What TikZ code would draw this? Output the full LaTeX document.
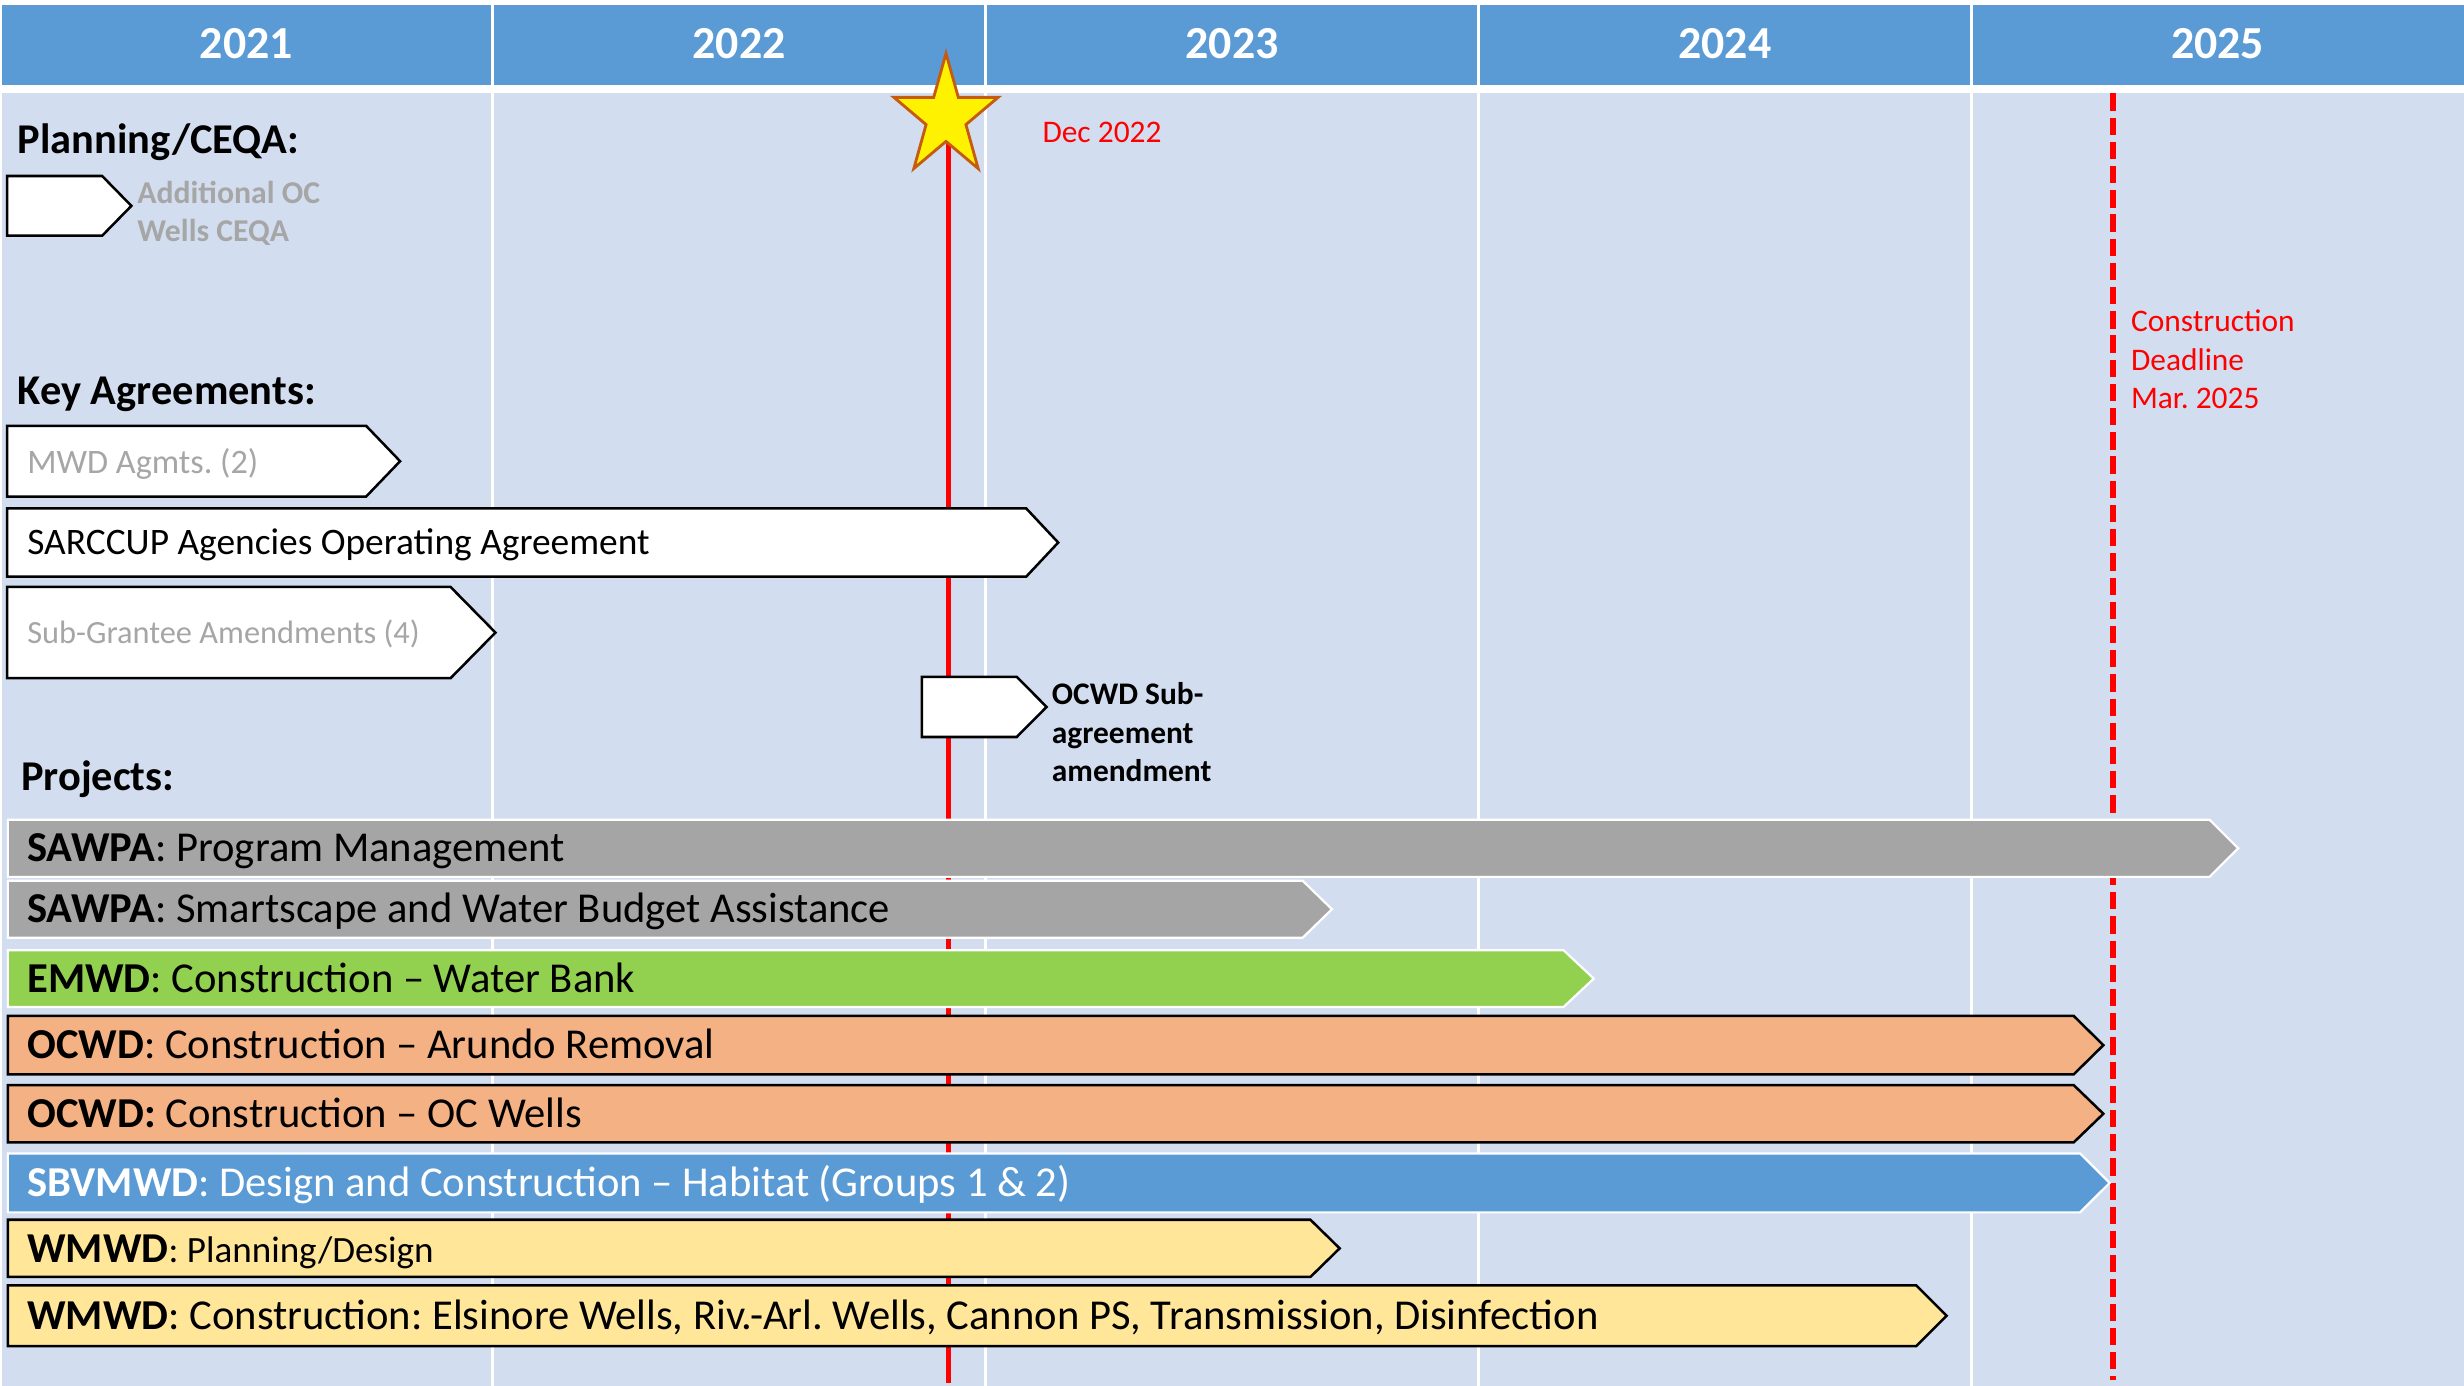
\documentclass[tikz,border=0pt]{standalone}
\usepackage{fontspec}
\setmainfont{Carlito}
\frenchspacing
\definecolor{headblue}{HTML}{5B9BD5}
\definecolor{bodyblue}{HTML}{D2DEEF}
\definecolor{bargray}{HTML}{A5A5A5}
\definecolor{bargreen}{HTML}{92D050}
\definecolor{barorange}{HTML}{F4B183}
\definecolor{baryellow}{HTML}{FFE699}
\definecolor{txtgray}{HTML}{A6A6A6}
\definecolor{starline}{HTML}{C55A11}
\newcommand{\PBar}[6]{\path[#1] (#2,#3) -- (#4,#3) -- (#5,{(#3+#6)/2}) -- (#4,#6) -- (#2,#6) -- cycle;}
\tikzset{
  divider/.style={draw=white, line width=0.85pt},
  whitebox/.style={fill=white, draw=black, line width=0.8pt, line join=miter},
  graybar/.style={fill=bargray, draw=white, line width=0.7pt},
  greenbar/.style={fill=bargreen, draw=white, line width=0.7pt},
  bluebar/.style={fill=headblue, draw=white, line width=0.7pt},
  orangebar/.style={fill=barorange, draw=black, line width=0.8pt},
  yellowbar/.style={fill=baryellow, draw=black, line width=0.8pt},
  yearlbl/.style={anchor=base, inner sep=0pt, text=white, font=\fontsize{14.6}{17}\selectfont\bfseries},
  sechead/.style={anchor=base west, inner sep=0pt, font=\fontsize{13.5}{16}\selectfont\bfseries},
  barlbl/.style={anchor=base west, inner sep=0pt, font=\fontsize{13.55}{16}\selectfont},
  redlbl/.style={anchor=base west, inner sep=0pt, text=red, align=left, font=\fontsize{10}{12.2}\selectfont},
  graylbl/.style={anchor=base west, inner sep=0pt, text=txtgray},
  agmtlbl/.style={anchor=base west, inner sep=0pt, align=left, font=\fontsize{10}{12.3}\selectfont\bfseries},
  milestone/.style={draw=red, line width=1.6pt},
  deadline/.style={draw=red, line width=2pt, dash pattern=on 5.5pt off 2.2pt},
  starsty/.style={fill=yellow, draw=starline, line width=0.9pt, line join=miter}
}
\begin{document}
\begin{tikzpicture}[x=0.5pt, y=-0.5pt]
\useasboundingbox (0,0) rectangle (1568,882);
\fill[white] (0,0) rectangle (1568,882);
% header and body
\fill[headblue] (1.5,3) rectangle (1568,54.3);
\fill[bodyblue] (1.5,59.3) rectangle (1568,882);
\foreach \cx in {313.6,627.2,940.8,1254.4} {
  \draw[divider] (\cx,3) -- (\cx,54.3);
  \draw[divider] (\cx,59.3) -- (\cx,882);
}
% year labels
\node[yearlbl] (y2021) at (156.8,37.1) {2021};
\node[yearlbl] (y2022) at (470.4,37.1) {2022};
\node[yearlbl] (y2023) at (784.0,37.1) {2023};
\node[yearlbl] (y2024) at (1097.6,37.1) {2024};
\node[yearlbl] (y2025) at (1411.2,37.1) {2025};
% milestone lines
\coordinate (starc) at (602,74.5);
\coordinate (milebot) at (603.5,880);
\coordinate (deadtop) at (1344.7,59.5);
\coordinate (deadbot) at (1344.7,878);
\draw[milestone] (603.5,74.5) -- (milebot);
\draw[deadline] (deadtop) -- (deadbot);
% section headings
\node[sechead] (hplan) at (11,98) {Planning/CEQA:};
\node[sechead] (hkey) at (11,257.2) {Key Agreements:};
\node[sechead] (hproj) at (13,503) {Projects:};
% planning / agreements boxes
\PBar{whitebox}{4.5}{112}{65}{83.6}{150}
\node[graylbl, align=left, font=\fontsize{10.1}{12.2}\selectfont\bfseries] (tplan) at (87,153.8) {Additional OC\\Wells CEQA};
\PBar{whitebox}{4.5}{271}{233}{254.6}{316}
\node[graylbl, font=\fontsize{10.9}{13}\selectfont] (tmwd) at (17,301.3) {MWD Agmts. (2)};
\PBar{whitebox}{4.5}{323.5}{653}{673.4}{367}
\node[barlbl, font=\fontsize{11.9}{14}\selectfont] (tsarc) at (17,352.6) {SARCCUP Agencies Operating Agreement};
\PBar{whitebox}{4.5}{373.5}{286.7}{315.3}{431.6}
\node[graylbl, font=\fontsize{10.3}{12}\selectfont] (tsub) at (17,409.5) {Sub-Grantee Amendments (4)};
\PBar{whitebox}{586.7}{430.7}{647}{666}{469}
\node[agmtlbl] (tocwdsub) at (669,497.5) {OCWD Sub-\\agreement\\amendment};
% project bars
\PBar{graybar}{5}{521.6}{1406}{1424.3}{558}
\node[barlbl] (tpm) at (17,548.5) {\textbf{SAWPA}: Program Management};
\PBar{graybar}{5}{560.5}{829}{847.6}{596.7}
\node[barlbl] (tsmart) at (17,587.3) {\textbf{SAWPA}: Smartscape and Water Budget Assistance};
\PBar{greenbar}{5}{604.7}{995}{1014.2}{640.8}
\node[barlbl] (temwd) at (17,631.5) {\textbf{EMWD}: Construction – Water Bank};
\PBar{orangebar}{5}{646.5}{1319.6}{1338.5}{683.7}
\node[barlbl] (tarundo) at (17,673.8) {\textbf{OCWD}: Construction – Arundo Removal};
\PBar{orangebar}{5}{690.5}{1319.6}{1338.5}{727}
\node[barlbl] (twells) at (17,717.5) {\textbf{OCWD:} Construction – OC Wells};
\PBar{bluebar}{5}{734}{1323.7}{1342.5}{771.5}
\node[barlbl, text=white] (tsbv) at (17,761.5) {\textbf{SBVMWD}: Design and Construction – Habitat (Groups 1 \& 2)};
\PBar{yellowbar}{5}{776.2}{833.9}{852.5}{812.6}
\node[barlbl] (twplan) at (17,803.1) {\textbf{WMWD}\fontsize{11.8}{14}\selectfont: Planning/Design};
\PBar{yellowbar}{5}{818}{1219.4}{1238.7}{856.6}
\node[barlbl] (twcon) at (17,846) {\textbf{WMWD}: Construction: Elsinore Wells, Riv.-Arl. Wells, Cannon PS, Transmission, Disinfection};
% red labels
\node[redlbl] (tdec) at (663,90.8) {Dec 2022};
\node[redlbl] (tdead) at (1355.7,259.9) {Construction\\Deadline\\Mar. 2025};
% star
\draw[starsty, shift={(starc)}, xscale=0.86]
  (-90:40.5) -- (-54:15.5) -- (-18:40.5) -- (18:15.5) -- (54:40.5) -- (90:15.5)
  -- (126:40.5) -- (162:15.5) -- (198:40.5) -- (234:15.5) -- cycle;
\end{tikzpicture}
\end{document}
